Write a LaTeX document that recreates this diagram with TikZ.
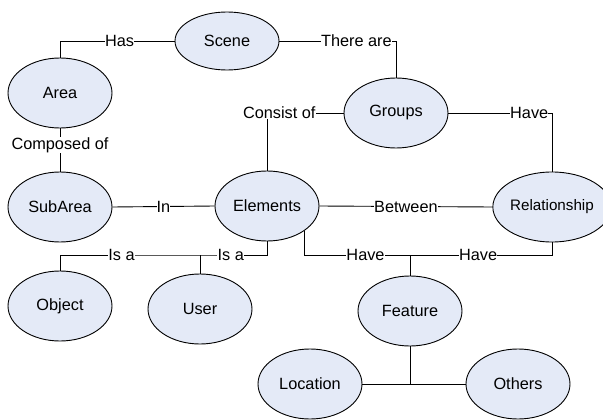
\documentclass[tikz,border=0pt]{standalone}
\usepackage{fontspec}
\setmainfont{Liberation Sans}
\usetikzlibrary{shapes.geometric,calc}
\definecolor{scenefill}{RGB}{228,234,247}

\begin{document}
\begin{tikzpicture}[
  x=1pt, y=-1pt,
  every node/.style={font=\fontsize{16.3}{19}\selectfont},
  concept/.style={ellipse, draw=black, line width=0.9pt, fill=scenefill,
                  minimum width=104pt, minimum height=70pt, inner sep=0pt},
  link/.style={draw=black, line width=0.9pt},
  rel/.style={fill=white, inner sep=0.2pt},
]
\useasboundingbox (0,0) rectangle (603,420);

% Concepts
\node[concept, minimum height=58pt] (scene) at (227,41) {Scene};
\node[concept] (area) at (60,93) {Area};
\node[concept] (groups) at (396,113) {Groups};
\node[concept] (subarea) at (60,207) {SubArea};
\node[concept] (elements) at (267,206) {Elements};
\node[concept, font=\fontsize{15.2}{18}\selectfont] (relationship) at (552,207) {Relationship};
\node[concept] (object) at (60,306) {Object};
\node[concept] (user) at (200,309) {User};
\node[concept] (feature) at (410,311) {Feature};
\node[concept] (location) at (310,384) {Location};
\node[concept] (others) at (518,384) {Others};

% Junction points
\coordinate (isa) at (200,255);
\coordinate (have) at (410,255);

% Relations
\draw[link] (area.north) |- (scene.west) node[rel, pos=0.76] {Has};
\draw[link] (scene.east) -| (groups.north) node[rel, pos=0.33] {There are};
\draw[link] (area.south) -- (subarea.north) node[rel, pos=0.38] {Composed of};
\draw[link] (groups.west) -| (elements.north) node[rel, pos=0.42] {Consist of};
\draw[link] (groups.east) -| (relationship.north) node[rel, pos=0.39] {Have};
\draw[link] (subarea.east) -- (elements.west) node[rel, pos=0.5] {In};
\draw[link] (elements.east) -- (relationship.west) node[rel, pos=0.5] {Between};
\draw[link] (elements.south) |- (isa) node[rel, pos=0.77] {Is a}
  -| (object.north) node[rel, pos=0.28] {Is a};
\draw[link] (isa) -- (user.north);
\draw[link] (elements.south east) |- (have) node[rel, pos=0.79] {Have}
  -- (feature.north);
\draw[link] (relationship.south) |- (have) node[rel, pos=0.76] {Have};
\draw[link] (feature.south) -- (feature.south |- location.east);
\draw[link] (location.east) -- (others.west);
\end{tikzpicture}
\end{document}
